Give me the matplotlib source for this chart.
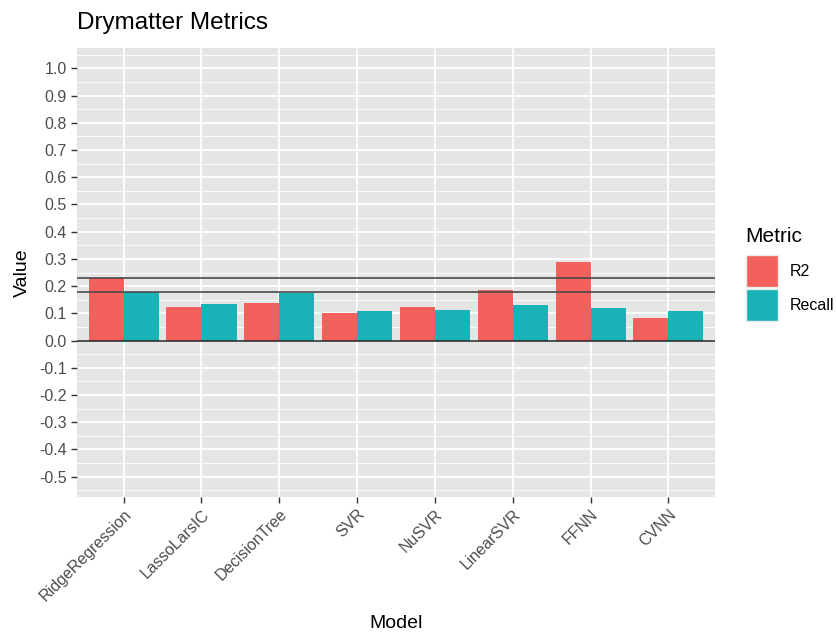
import numpy as np
import matplotlib.pyplot as plt
from matplotlib.patches import Rectangle

plt.rcParams['font.family'] = ['Liberation Sans', 'DejaVu Sans']

# model scores
models = ['RidgeRegression', 'LassoLarsIC', 'DecisionTree', 'SVR', 'NuSVR',
          'LinearSVR', 'FFNN', 'CVNN']
r2 = [0.229, 0.125, 0.137, 0.102, 0.125, 0.186, 0.287, 0.081]
recall = [0.180, 0.135, 0.175, 0.108, 0.112, 0.131, 0.118, 0.107]
yticks = np.round(np.arange(-0.5, 1.01, 0.1), 1)

red = '#F4605C'
teal = '#18B2B7'
panel = '#EBEBEB'

fig = plt.figure(figsize=(8.37, 6.33), dpi=100)
ax = fig.add_axes([77 / 837, 1 - 497 / 633, (715 - 77) / 837, (497 - 48) / 633])
ax.set_facecolor('#E5E5E5')

x = np.arange(1, len(models) + 1)
w = 0.45
ax.bar(x - w / 2, r2, width=w, color=red, zorder=3)
ax.bar(x + w / 2, recall, width=w, color=teal, zorder=3)

# reference lines at the ridge baseline
ax.axhline(r2[0], color='#4a4a4a', lw=1.4, alpha=0.85, zorder=4)
ax.axhline(recall[0], color='#4a4a4a', lw=1.4, alpha=0.85, zorder=4)
ax.axhline(0, color='#222222', lw=1.1, zorder=4)

ax.set_xlim(0.4, len(models) + 0.6)
ax.set_ylim(-0.575, 1.075)
ax.set_yticks(yticks)
ax.set_yticklabels([f'{v + 0.0:.1f}' if abs(v) > 1e-9 else '0.0' for v in yticks])
ax.set_yticks(np.arange(-0.55, 1.06, 0.1), minor=True)
ax.set_xticks(x)
ax.set_xticklabels(models, rotation=45, ha='right', rotation_mode='anchor')

ax.grid(True, which='major', color='white', lw=1.3, zorder=0)
ax.grid(True, which='minor', axis='y', color='white', lw=0.6, zorder=0)
ax.set_axisbelow(True)
for s in ax.spines.values():
    s.set_visible(False)
ax.tick_params(axis='both', which='major', colors='#333333', length=4, width=1,
               labelcolor='#4D4D4D', labelsize=11.5)
ax.tick_params(axis='y', which='minor', length=0)
ax.tick_params(axis='x', pad=3)

ax.set_xlabel('Model', fontsize=14, labelpad=8)
ax.set_ylabel('Value', fontsize=14, labelpad=6)
fig.text(77 / 837, 1 - 23 / 633, 'Drymatter Metrics', fontsize=17.5, va='center', ha='left')

# legend
fig.text(745 / 837, 1 - 237 / 633, 'Metric', fontsize=15, va='center', ha='left')
for i, (lab, col) in enumerate([('R2', red), ('Recall', teal)]):
    y0 = 255 + i * 34
    fig.add_artist(Rectangle((746 / 837, 1 - (y0 + 32) / 633), 32 / 837, 32 / 633,
                             transform=fig.transFigure, facecolor=col,
                             edgecolor=panel, lw=1))
    fig.text(790 / 837, 1 - (y0 + 16) / 633, lab, fontsize=11.5, va='center', ha='left')

fig.savefig('out.png', dpi=100)
